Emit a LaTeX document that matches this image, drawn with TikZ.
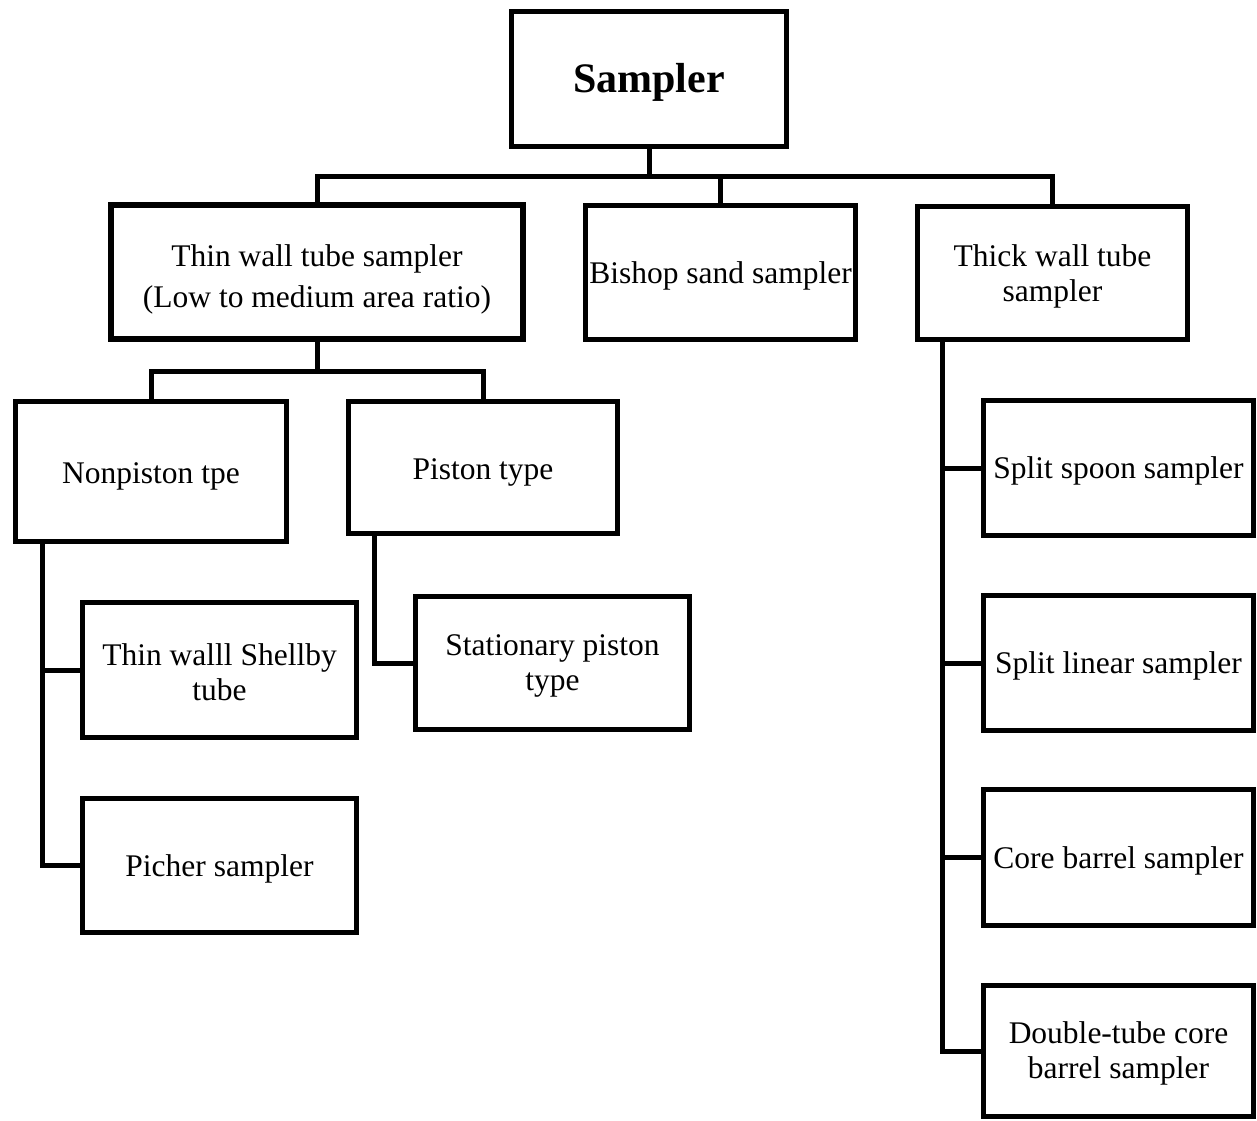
\documentclass[tikz,border=0pt]{standalone}
\usepackage{fontspec}
\setmainfont{Liberation Serif}
\newcommand{\txtdrop}[1]{\rule{0pt}{#1}}
\begin{document}
\begin{tikzpicture}[x=1pt,y=-1pt,
  box/.style={draw, rectangle, line width=5.5pt, inner sep=0pt, align=center, line join=miter,
    font=\fontsize{31.5}{35}\selectfont},
  conn/.style={line width=5pt, line join=miter}]
\useasboundingbox (0,0) rectangle (1257,1120);

% level 0
\node[box, minimum width=275pt, minimum height=135pt, font=\fontsize{42}{48}\selectfont\bfseries] (sampler) at (649,79) {\txtdrop{35pt}Sampler};

% level 1
\node[box, minimum width=412pt, minimum height=134pt, font=\fontsize{31.5}{41}\selectfont] (thin) at (317,272) {\txtdrop{36pt}Thin wall tube sampler\\(Low to medium area ratio)};
\node[box, minimum width=270pt, minimum height=134pt] (bishop) at (720.5,272.5) {\txtdrop{28pt}Bishop sand sampler};
\node[box, minimum width=270pt, minimum height=133pt] (thick) at (1052.5,273) {\txtdrop{28pt}Thick wall tube\\sampler};

% level 2 (thin wall)
\node[box, minimum width=271pt, minimum height=140pt] (nonpiston) at (151,471.5) {\txtdrop{31.5pt}Nonpiston tpe};
\node[box, minimum width=269pt, minimum height=132pt] (piston) at (483,467.5) {\txtdrop{31.5pt}Piston type};

% level 3
\node[box, minimum width=274pt, minimum height=135pt] (shelby) at (219.5,670) {\txtdrop{26pt}Thin walll Shellby\\tube};
\node[box, minimum width=274pt, minimum height=134pt] (picher) at (219.5,865.5) {\txtdrop{28pt}Picher sampler};
\node[box, minimum width=274pt, minimum height=133pt] (stationary) at (552.5,663) {\txtdrop{26pt}Stationary piston\\type};

% thick wall children
\node[box, minimum width=270pt, minimum height=135pt] (spoon) at (1118.5,468) {\txtdrop{28pt}Split spoon sampler};
\node[box, minimum width=270pt, minimum height=135pt] (linear) at (1118.5,663) {\txtdrop{28pt}Split linear sampler};
\node[box, minimum width=270pt, minimum height=136pt] (core) at (1118.5,857.5) {\txtdrop{28pt}Core barrel sampler};
\node[box, minimum width=270pt, minimum height=131pt] (double) at (1118.5,1051) {\txtdrop{26pt}Double-tube core\\barrel sampler};

% junction coordinates
\coordinate (b1) at (649,176);
\coordinate (b2) at (317,371);
\coordinate (npx) at (42,0);
\coordinate (pvx) at (374,0);
\coordinate (tvx) at (942,0);

% connectors
\draw[conn] (sampler.south) -- (b1);
\draw[conn] (thin.north) |- (b1) -| (thick.north);
\draw[conn] (bishop.north |- b1) -- (bishop.north);

\draw[conn] (thin.south) -- (b2);
\draw[conn] (nonpiston.north) |- (b2) -| (piston.north);

\draw[conn] (nonpiston.south -| npx) |- (shelby.west);
\draw[conn] (nonpiston.south -| npx) |- (picher.west);

\draw[conn] (piston.south -| pvx) |- (stationary.west);

\draw[conn] (thick.south -| tvx) |- (spoon.west);
\draw[conn] (thick.south -| tvx) |- (linear.west);
\draw[conn] (thick.south -| tvx) |- (core.west);
\draw[conn] (thick.south -| tvx) |- (double.west);
\end{tikzpicture}
\end{document}
